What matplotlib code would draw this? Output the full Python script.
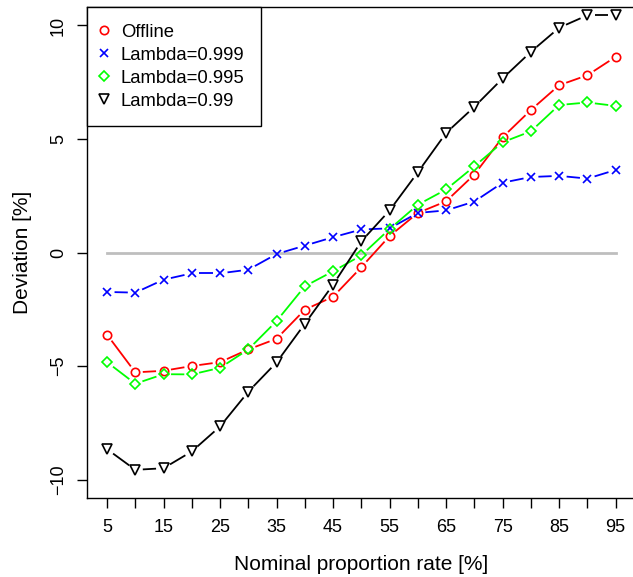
import numpy as np
import matplotlib
matplotlib.use("Agg")
import matplotlib.pyplot as plt
from matplotlib.lines import Line2D

plt.rcParams['font.family'] = ['Liberation Sans', 'DejaVu Sans']

# nominal proportion rate [%]
rates = [5, 10, 15, 20, 25, 30, 35, 40, 45, 50, 55, 60, 65, 70, 75, 80, 85, 90, 95]

# deviation [%]
offline = [-3.61, -5.27, -5.20, -4.99, -4.82, -4.26, -3.79, -2.51, -1.94, -0.64,
           0.73, 1.75, 2.26, 3.44, 5.08, 6.28, 7.37, 7.81, 8.62]
lam_999 = [-1.73, -1.76, -1.19, -0.91, -0.91, -0.75, -0.06, 0.31, 0.68, 1.02,
           1.07, 1.75, 1.86, 2.25, 3.08, 3.33, 3.38, 3.26, 3.64]
lam_995 = [-4.82, -5.77, -5.35, -5.36, -5.07, -4.26, -3.01, -1.48, -0.82, -0.12,
           1.04, 2.11, 2.78, 3.80, 4.86, 5.34, 6.50, 6.61, 6.46]
lam_99 = [-8.65, -9.56, -9.49, -8.75, -7.65, -6.12, -4.83, -3.13, -1.41, 0.50,
          1.86, 3.54, 5.27, 6.42, 7.67, 8.84, 9.90, 10.45, 10.45]

series_names = ['Offline', 'Lambda=0.999', 'Lambda=0.995', 'Lambda=0.99']
series_vals = [offline, lam_999, lam_995, lam_99]
colors = ['#ff0000', '#0000ff', '#00ff00', '#000000']
markers = ['o', 'x', 'D', 'v']
msizes = [6.0, 6.0, 5.0, 6.5]

W, H = 633, 577
fig = plt.figure(figsize=(W / 100, H / 100), dpi=100)
# axes box in pixels: left 86.7, right 636 (cropped), top 7.3, bottom 498
ax = fig.add_axes([86.7 / W, (H - 498) / H, (636 - 86.7) / W, (498 - 7.3) / H])
ax.set_xlim(1.4, 98.6)
ax.set_ylim(-10.8, 10.8)

# reference line at zero
ax.plot([rates[0], rates[-1]], [0, 0], color='#bebebe', lw=2.0, zorder=1)


def gapped_line(x, y, color, gap=7.5):
    # R-style type="b": segments stop short of each point
    pts = ax.transData.transform(np.column_stack([x, y]))
    inv = ax.transData.inverted()
    for p, q in zip(pts[:-1], pts[1:]):
        d = q - p
        L = np.hypot(d[0], d[1])
        if L <= 2 * gap:
            continue
        a = p + d / L * gap
        b = q - d / L * gap
        seg = inv.transform(np.array([a, b]))
        ax.plot(seg[:, 0], seg[:, 1], color=color, lw=1.3, solid_capstyle='butt', zorder=2)


for vals, c, m, ms in zip(series_vals, colors, markers, msizes):
    gapped_line(rates, vals, c)
    ax.plot(rates, vals, ls='none', marker=m, ms=ms, mfc='none', mec=c, mew=1.2, zorder=3)

# ticks
ax.set_xticks(rates)
ax.set_xticklabels([str(r) if i % 2 == 0 else '' for i, r in enumerate(rates)])
ax.set_yticks([-10, -5, 0, 5, 10])
ax.set_yticklabels(['\u221210', '\u22125', '0', '5', '10'], rotation=90, va='center')
ax.tick_params(axis='both', direction='out', length=7.2, width=1.0, labelsize=13, color='black')
ax.tick_params(axis='x', pad=8)
ax.tick_params(axis='y', pad=7)
for s in ax.spines.values():
    s.set_linewidth(1.0)

ax.set_xlabel('Nominal proportion rate [%]', fontsize=15)
ax.set_ylabel('Deviation [%]', fontsize=15)
ax.xaxis.set_label_coords(0.5, (498 - 564) / (498 - 7.3))
ax.xaxis.label.set_va('center')
ax.yaxis.set_label_coords((23 - 86.7) / (636 - 86.7), 0.5)
ax.yaxis.label.set_va('center')

handles = [Line2D([], [], ls='none', marker=m, ms=ms, mfc='none', mec=c, mew=1.2)
           for c, m, ms in zip(colors, markers, msizes)]
leg = ax.legend(handles, series_names, loc='upper left', fontsize=13.3,
                frameon=True, fancybox=False, edgecolor='black', framealpha=1,
                borderaxespad=0, borderpad=0.88, handlelength=0.12,
                handletextpad=0.85, labelspacing=0.33)
leg.get_frame().set_linewidth(1.0)

fig.savefig('out.png', dpi=100)
